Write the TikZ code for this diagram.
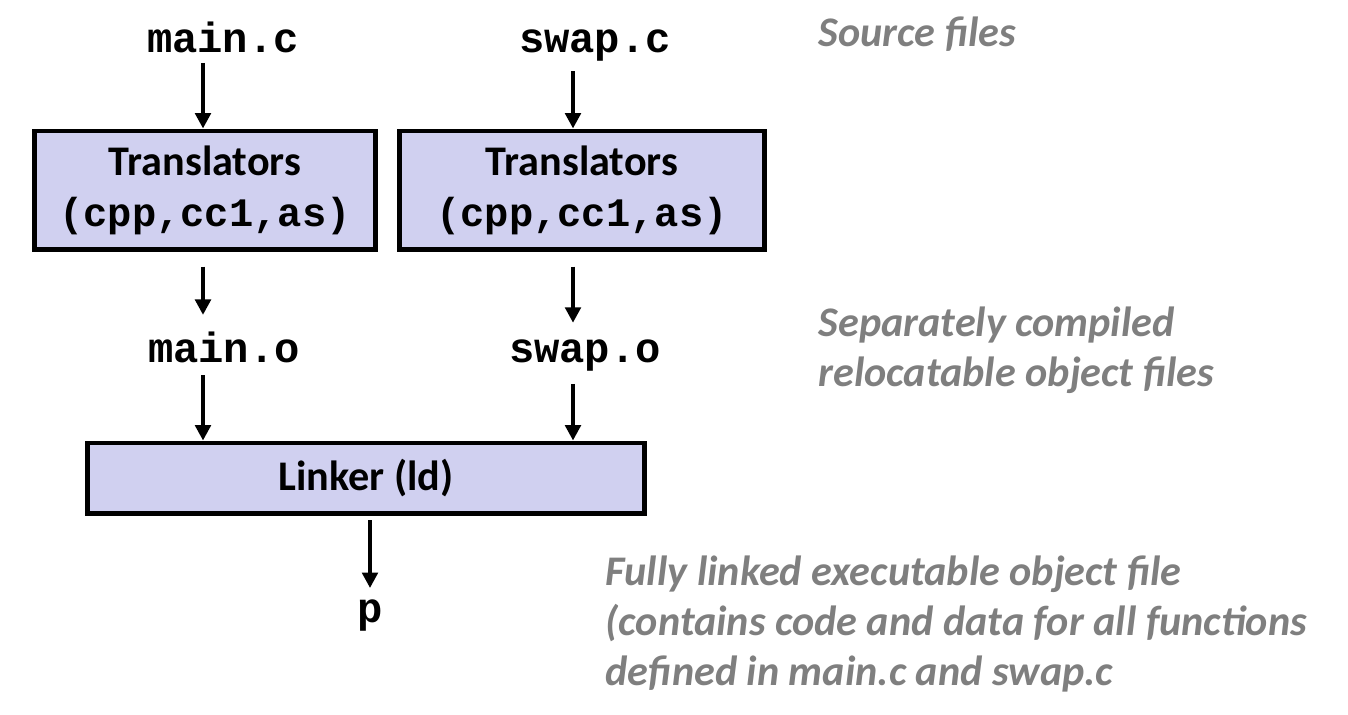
\documentclass[tikz,border=0pt]{standalone}
\usepackage{fontspec}
\setmainfont{Carlito}
\newfontfamily\codefont{Liberation Mono}
\usetikzlibrary{arrows.meta,positioning}
\definecolor{boxfill}{RGB}{208,208,240}
\definecolor{notegray}{RGB}{127,127,127}
\tikzset{tbox/.style={draw=black, line width=1.4pt, fill=boxfill, align=center, inner sep=0pt,
                      font=\fontsize{12}{14.5}\selectfont\bfseries},
         file/.style={font=\fontsize{12}{14}\selectfont\codefont\bfseries, inner sep=0pt, anchor=base},
         note/.style={font=\fontsize{12}{14.2}\selectfont\bfseries\itshape, text=notegray,
                      align=left, anchor=base west, inner sep=0pt},
         arr/.style={-{Triangle[width=4.4pt,length=4.4pt]}, line width=1.1pt}}

\begin{document}
\begin{tikzpicture}[x=0.01cm, y=-0.01cm]
                \useasboundingbox (0,0) rectangle (1348,714);

                % source files
                \node[file] (mainc) at (223,52) {main.c};
                \node[file] (swapc) at (595,52) {swap.c};

                % translators
                \node[tbox, minimum width=3.4cm, minimum height=1.18cm] (transA) at (205,190)
                    {Translators\\{\codefont\fontsize{11.5}{14.5}\selectfont(cpp,cc1,as)}};
                \node[tbox, minimum width=3.65cm, minimum height=1.18cm] (transB) at (582,190)
                    {Translators\\{\codefont\fontsize{11.5}{14.5}\selectfont(cpp,cc1,as)}};

                % object files
                \node[file] (maino) at (224,362) {main.o};
                \node[file] (swapo) at (585,362) {swap.o};

                % linker
                \node[tbox, minimum width=5.56cm, minimum height=0.7cm] (linker) at (366,478) {Linker (ld)};
                \node[file] (prog) at (370,622) {p};

                \coordinate (colA) at (203,0);
                \coordinate (colB) at (573,0);
                \coordinate (colP) at (370,0);

                \draw[arr, shorten <=2.8pt] (mainc.south -| colA) -- (transA.north -| colA);
                \draw[arr, shorten <=2.8pt] (swapc.south -| colB) -- (transB.north -| colB);
                \draw[arr, shorten <=4.3pt, shorten >=4.5pt] (transA.south -| colA) -- (maino.north -| colA);
                \draw[arr, shorten <=4.3pt, shorten >=4.5pt] (transB.south -| colB) -- (swapo.north -| colB);
                \draw[arr, shorten <=3.5pt] (maino.south -| colA) -- (linker.north -| colA);
                \draw[arr, shorten <=3.5pt] (swapo.south -| colB) -- (linker.north -| colB);
                \draw[arr, shorten <=1.4pt, shorten >=3pt] (linker.south -| colP) -- (prog.north -| colP);

                % notes (base = last line)
                \node[note] (srcnote) at (818,46) {Source files};
                \node[note] (objnote) at (818,386) {Separately compiled\\relocatable object files};
                \node[note] (exenote) at (605,685) {Fully linked executable object file\\(contains code and data for all functions\\defined in main.c and swap.c};

\end{tikzpicture}
\end{document}
